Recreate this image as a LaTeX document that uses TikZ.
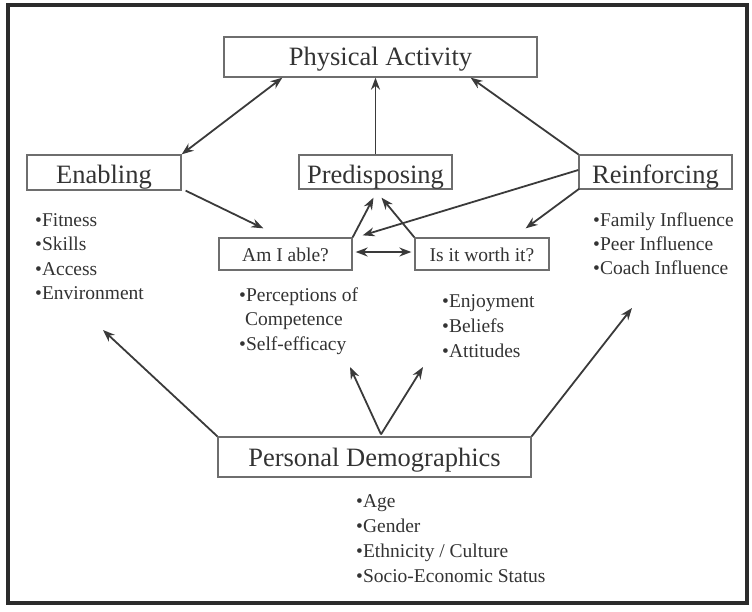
\documentclass[tikz,border=0pt]{standalone}
\usepackage{fontspec}
\setmainfont{Liberation Serif}
\usetikzlibrary{arrows.meta,calc}
\definecolor{txt}{HTML}{333333}
\definecolor{boxc}{HTML}{6E6E6E}
\definecolor{arr}{HTML}{3A3A3A}
\definecolor{frm}{HTML}{2B2B2B}
\begin{document}
\begin{tikzpicture}[x=1pt,y=-1pt,
  box/.style={draw=boxc,line width=1.3pt,inner sep=0pt,text=txt,text depth=0pt},
  title/.style={box,font=\fontsize{26.5}{30}\selectfont},
  small/.style={box,font=\fontsize{19.5}{23}\selectfont},
  item/.style={anchor=base west,inner sep=0pt,text=txt,font=\fontsize{19.5}{23}\selectfont},
  conn/.style={draw=arr,line width=1.8pt,-{Stealth[length=12pt,width=9pt]}},
  conn2/.style={draw=arr,line width=1.8pt,{Stealth[length=12pt,width=9pt]}-{Stealth[length=12pt,width=9pt]}}
]
\useasboundingbox (0,0) rectangle (752,611);
\draw[frm,line width=4pt] (8,5) rectangle (747,603);

% boxes
\node[title,minimum width=313pt,minimum height=40pt,text height=17pt] (pa) at (380.5,57) {Physical Activity};
\node[title,minimum width=154pt,minimum height=35pt,text height=22pt] (en) at (104,172.5) {Enabling};
\node[title,minimum width=153pt,minimum height=34pt,text height=22pt] (pr) at (375.5,172) {Predisposing};
\node[title,minimum width=153pt,minimum height=34pt,text height=22pt] (re) at (655.5,172) {Reinforcing};
\node[small,minimum width=133pt,minimum height=32pt,text height=14pt] (am) at (285.5,254) {Am I able?};
\node[small,minimum width=134pt,minimum height=32pt,text height=14pt] (wo) at (482,254) {Is it worth it?};
\node[title,minimum width=313pt,minimum height=40pt,text height=18pt] (pd) at (374.5,457) {Personal Demographics};

% lists
\node[item] (en1) at (35,226) {•Fitness};
\node[item] (en2) at (35,250.5) {•Skills};
\node[item] (en3) at (35,275) {•Access};
\node[item] (en4) at (35,299.5) {•Environment};

\node[item] (re1) at (593,226) {•Family Influence};
\node[item] (re2) at (593,250) {•Peer Influence};
\node[item] (re3) at (593,274) {•Coach Influence};

\node[item] (am1) at (239,301) {•Perceptions of};
\node[item] (am2) at (245,325.5) {Competence};
\node[item] (am3) at (239,350) {•Self-efficacy};

\node[item] (wo1) at (442,307) {•Enjoyment};
\node[item] (wo2) at (442,332) {•Beliefs};
\node[item] (wo3) at (442,357) {•Attitudes};

\node[item] (pd1) at (356,507) {•Age};
\node[item] (pd2) at (356,532) {•Gender};
\node[item] (pd3) at (356,557) {•Ethnicity / Culture};
\node[item] (pd4) at (356,582) {•Socio-Economic Status};

% free ends
\coordinate (paL) at ($(pa.south west)+(59,0)$);
\coordinate (paR) at ($(pa.south east)+(-67,0)$);
\coordinate (pdA) at ($(pd.north)+(6.5,-2)$);
\coordinate (amT) at (350,367);
\coordinate (woT) at (423,367);
\coordinate (enT) at (103,330);
\coordinate (reT) at (632,308);

% connectors
\draw[conn2] (en.north east) -- (paL);
\draw[conn] (pr.north) -- (pr.north |- pa.south);
\draw[conn] (re.north west) -- (paR);
\draw[conn] ($(en.south east)+(4,0)$) -- ($(am.north west)+(45,-9)$);
\draw[conn] ($(re.west)+(0,-2)$) -- ($(am.north east)+(10,-2)$);
\draw[conn] ($(re.south west)+(1,-1)$) -- ($(wo.north east)+(-24,-9)$);
\draw[conn] (am.north east) -- ($(pr.south)+(-2,8)$);
\draw[conn] (wo.north west) -- ($(pr.south)+(6,8)$);
\draw[conn2] ($(am.east)+(3,-2)$) -- ($(wo.west)+(-3,-2)$);
\draw[conn] (pdA) -- (amT);
\draw[conn] (pdA) -- (woT);
\draw[conn] (pd.north west) -- (enT);
\draw[conn] (pd.north east) -- (reT);
\end{tikzpicture}
\end{document}
